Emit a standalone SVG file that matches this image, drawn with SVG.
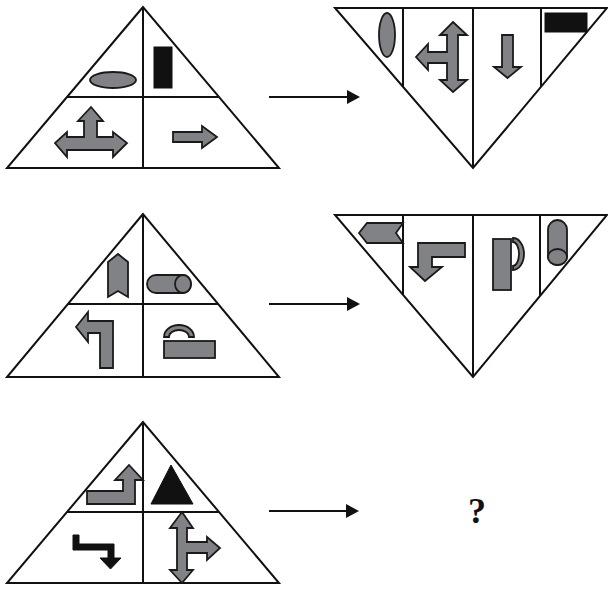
<svg xmlns="http://www.w3.org/2000/svg" width="608" height="590" viewBox="0 0 608 590">
<style>
.t{fill:none;stroke:#111;stroke-width:2;stroke-linejoin:miter}
.g{fill:#808285;stroke:#1a1a1a;stroke-width:1.8;stroke-linejoin:miter}
.k{fill:#111;stroke:#111;stroke-width:1}
.c{stroke:#111;stroke-width:2;fill:none}
.q{font-family:"Liberation Serif","DejaVu Serif",serif;font-weight:bold;font-size:36px;fill:#111}
</style>
<defs>
<marker id="ah" markerUnits="userSpaceOnUse" markerWidth="14" markerHeight="14" refX="0" refY="7" orient="auto">
<path d="M0,0 L13,7 L0,14 Z" fill="#111"/>
</marker>
</defs>
<rect width="608" height="590" fill="#fff"/>

<g id="tri1">
<path class="t" d="M143,7 L7,168 L279,168 Z M143,7 L143,168 M67,97 L219,97"/>
<ellipse class="g" cx="113" cy="80" rx="23" ry="8"/>
<rect class="k" x="154" y="47" width="18" height="41"/>
<polygon class="g" points="91,107 103,121 97,121 97,137 113,137 113,132 127,143 113,157 113,150 67,150 67,157 55,143 67,132 67,137 84,137 84,121 78,121"/>
<polygon class="g" points="173,132 202,132 202,126 217,137 202,148 202,142 173,142"/>
</g>

<g id="tri2">
<path class="t" d="M335,8 L607,8 L473,168 Z M473,8 L473,168 M403,8 L403,87 M541,8 L541,87"/>
<ellipse class="g" cx="387" cy="35" rx="8" ry="22"/>
<polygon class="g" points="453,22 467,35 458,35 458,80 467,80 453,92 440,80 447,80 447,63 428,63 428,70 416,57 428,44 428,52 447,52 447,35 440,35"/>
<polygon class="g" points="502,35 513,35 513,67 521,67 507.5,78 494,67 502,67"/>
<rect class="k" x="545" y="13" width="42" height="19"/>
</g>

<g id="tri3">
<path class="t" d="M143,214 L7,377 L279,377 Z M143,214 L143,377 M68,304 L218,304"/>
<polygon class="g" points="108,262 118,254 128,262 128,297 118,291 108,297"/>
<path class="g" d="M156,275 L183,275 A8,9 0 0 1 183,293 L156,293 A9,9 0 0 1 156,275 Z"/>
<ellipse class="g" cx="183" cy="284" rx="8" ry="9"/>
<polygon class="g" points="76,327 88,312 88,321 113,321 113,368 100,368 100,333 88,333 88,342"/>
<path class="g" d="M164,337 A15,12 0 0 1 194,337 L189,337 A10,7 0 0 0 169,337 Z"/>
<rect class="g" x="164" y="341" width="51" height="17"/>
</g>

<g id="tri4">
<path class="t" d="M335,215 L607,215 L473,377 Z M473,215 L473,377 M403,215 L403,295 M540,215 L540,296"/>
<polygon class="g" points="359,233 367,223 403,223 396,233 403,243 367,243"/>
<polygon class="g" points="418,243 465,243 465,257 432,257 432,267 442,267 425,281 410,267 418,267"/>
<rect class="g" x="493" y="239" width="18" height="51"/>
<path class="g" d="M513,238 A11,16 0 0 1 513,270 L513,266 A6,12 0 0 0 513,242 Z"/>
<path class="g" d="M548,229.5 A9.5,9.5 0 0 1 567,229.5 L567,257 A9.5,8 0 0 1 548,257 Z"/>
<ellipse class="g" cx="557.5" cy="257" rx="9.5" ry="8"/>
</g>

<g id="tri5">
<path class="t" d="M143,422 L7,583 L279,583 Z M143,422 L143,583 M67,512 L219,512"/>
<polygon class="g" points="87,491 123,491 123,480 115,480 129,465 143,480 135,480 135,504 87,504"/>
<polygon class="k" points="171,465 193,504 151,504"/>
<polygon class="k" points="73,535 79,535 79,544 114,544 114,558 121,558 110.5,569 100,558 108,558 108,550 73,550"/>
<polygon class="g" points="182,512 193,528 187,528 187,542 207,542 207,537 220,548 207,560 207,553 187,553 187,570 193,570 182,583 170,570 177,570 177,528 170,528"/>
</g>

<g id="answer">
<text class="q" x="477" y="523" text-anchor="middle">?</text>
</g>

<g id="connectors">
<line class="c" x1="269" y1="97" x2="347" y2="97" marker-end="url(#ah)"/>
<line class="c" x1="269" y1="304" x2="347" y2="304" marker-end="url(#ah)"/>
<line class="c" x1="269" y1="511" x2="346" y2="511" marker-end="url(#ah)"/>
</g>
</svg>
